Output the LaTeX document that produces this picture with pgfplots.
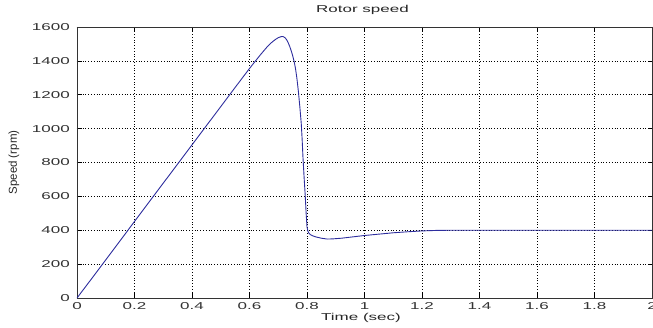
\documentclass[border=0pt]{standalone}
\usepackage{fontspec}
\setmainfont{Liberation Sans}
\newfontfamily\wide{Liberation Sans}[FakeStretch=1.7]
\usepackage{pgfplots}
\pgfplotsset{compat=1.18}
\definecolor{curve}{rgb}{0.18,0.18,0.62}
\begin{document}
\begin{tikzpicture}
\begin{axis}[
  scale only axis,
  width=575pt, height=271pt,
  xmin=0, xmax=2, ymin=0, ymax=1600,
  xtick={0,0.2,...,2.0},
  xticklabels={0,0.2,0.4,0.6,0.8,1,1.2,1.4,1.6,1.8,2},
  ytick={0,200,...,1600},
  yticklabels={0,200,400,600,800,1000,1200,1400,1600},
  /pgf/number format/assume math mode=true,
  tick align=inside,
  major tick length=4.5pt,
  tick style={black, line width=0.6pt},
  axis line style={black!80, line width=0.7pt},
  grid=major,
  major grid style={black, line width=0.5pt, dash pattern=on 0.8pt off 2pt},
  ticklabel style={font=\wide\fontsize{10}{12}\selectfont, text=black!80},
  xticklabel style={inner sep=0pt, anchor=base, yshift=-12pt},
  yticklabel style={inner sep=0pt, anchor=east, xshift=-7pt},
  title={Rotor speed},
  title style={font=\wide\fontsize{10}{12}\selectfont, at={(axis description cs:0.5,1)}, anchor=base, inner sep=0pt, yshift=8.5pt, xshift=-2pt, text=black!85},
  xlabel={Time (sec)},
  xlabel style={font=\wide\fontsize{10}{12}\selectfont, at={(axis description cs:0.5,0)}, anchor=base, inner sep=0pt, yshift=-23pt, xshift=-3.5pt, text=black!85},
  ylabel={Speed (rpm)},
  ylabel style={font=\fontsize{11.5}{13}\selectfont, at={(axis description cs:-0.1096,0.5)}, anchor=center, inner sep=0pt, text=black!85},
]
\addplot[curve, line width=0.9pt] coordinates {
(0,0) (0.05,112) (0.1,225) (0.15,338) (0.2,452) (0.25,565) (0.3,678)
(0.35,791) (0.4,904) (0.45,1017) (0.5,1130) (0.55,1243) (0.6,1355)
(0.62,1398) (0.64,1440) (0.66,1480) (0.67,1498) (0.68,1513) (0.69,1526)
(0.70,1537) (0.71,1543) (0.715,1544) (0.72,1541) (0.725,1534) (0.73,1522)
(0.735,1505) (0.74,1485) (0.745,1460) (0.75,1432) (0.755,1398) (0.76,1355)
(0.765,1295) (0.77,1220) (0.775,1130) (0.78,1030) (0.783,940) (0.786,830)
(0.79,710) (0.794,600) (0.797,500) (0.80,420) (0.803,395) (0.807,382)
(0.812,374) (0.82,367) (0.83,361) (0.85,353) (0.87,348) (0.89,349)
(0.92,353) (0.96,361) (1.0,369) (1.05,377) (1.1,385) (1.15,391) (1.2,396)
(1.25,399) (1.3,400) (1.5,400) (2.0,400)
};
\end{axis}
\pgfresetboundingbox
\path[use as bounding box] ([shift={(-77pt,-30pt)}]current axis.south west) rectangle ([shift={(576pt,298pt)}]current axis.south west);
\end{tikzpicture}
\end{document}
